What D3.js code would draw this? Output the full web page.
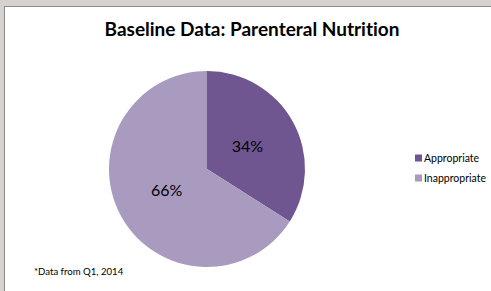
<!DOCTYPE html>
<html>
<head>
<meta charset="utf-8">
<script src="https://cdn.jsdelivr.net/npm/d3@7"></script>
<style>
html,body{margin:0;padding:0;background:#d6d3ce;}
svg{display:block;}
text{font-variant-ligatures:none;font-feature-settings:"liga" 0;}
</style>
</head>
<body>
<svg id="chart" width="491" height="291"></svg>
<script>
const categories = ["Appropriate", "Inappropriate"];
const values = [34, 66];
const labels = ["34%", "66%"];
const title = "Baseline Data: Parenteral Nutrition";
const footnote = "*Data from Q1, 2014";
const colors = ["#6f5690", "#a99bc0"];

const svg = d3.select("#chart");
const font = "Lato, 'Liberation Sans', sans-serif";

svg.append("rect").attr("x", 0).attr("y", 0).attr("width", 491).attr("height", 291).attr("fill", "#d6d3ce");
svg.append("rect").attr("x", 4.5).attr("y", 6.5).attr("width", 500).attr("height", 300)
  .attr("fill", "#ffffff").attr("stroke", "#8a8a8a").attr("stroke-width", 1);

svg.append("text").attr("x", 252).attr("y", 36).attr("text-anchor", "middle")
  .attr("font-family", font).attr("font-weight", "bold").attr("font-size", 19)
  .attr("fill", "#000").text(title);

const cx = 207, cy = 169, r = 98;
const pie = d3.pie().sort(null).value(d => d)(values);
const arc = d3.arc().innerRadius(0).outerRadius(r);
const labelArc = d3.arc().innerRadius(r * 0.47).outerRadius(r * 0.47);

const g = svg.append("g").attr("transform", `translate(${cx},${cy})`);
g.selectAll("path").data(pie).join("path")
  .attr("d", arc).attr("fill", (d, i) => colors[i]);

g.selectAll("text").data(pie).join("text")
  .attr("transform", d => `translate(${labelArc.centroid(d)})`)
  .attr("text-anchor", "middle").attr("dy", "0.3em")
  .attr("font-family", font).attr("font-size", 16).attr("fill", "#000")
  .text((d, i) => labels[i]);

const legend = svg.append("g").attr("transform", "translate(415,158)");
categories.forEach((c, i) => {
  const row = legend.append("g").attr("transform", `translate(0,${i * 20})`);
  row.append("rect").attr("x", 0).attr("y", -3.5).attr("width", 7).attr("height", 7).attr("fill", colors[i]);
  row.append("text").attr("x", 9).attr("y", 0).attr("dy", "0.35em")
    .attr("font-family", font).attr("font-size", 10.5).attr("fill", "#000").text(c);
});

svg.append("text").attr("x", 34).attr("y", 275)
  .attr("font-family", font).attr("font-size", 9.6).attr("fill", "#000").text(footnote);
</script>
</body>
</html>
